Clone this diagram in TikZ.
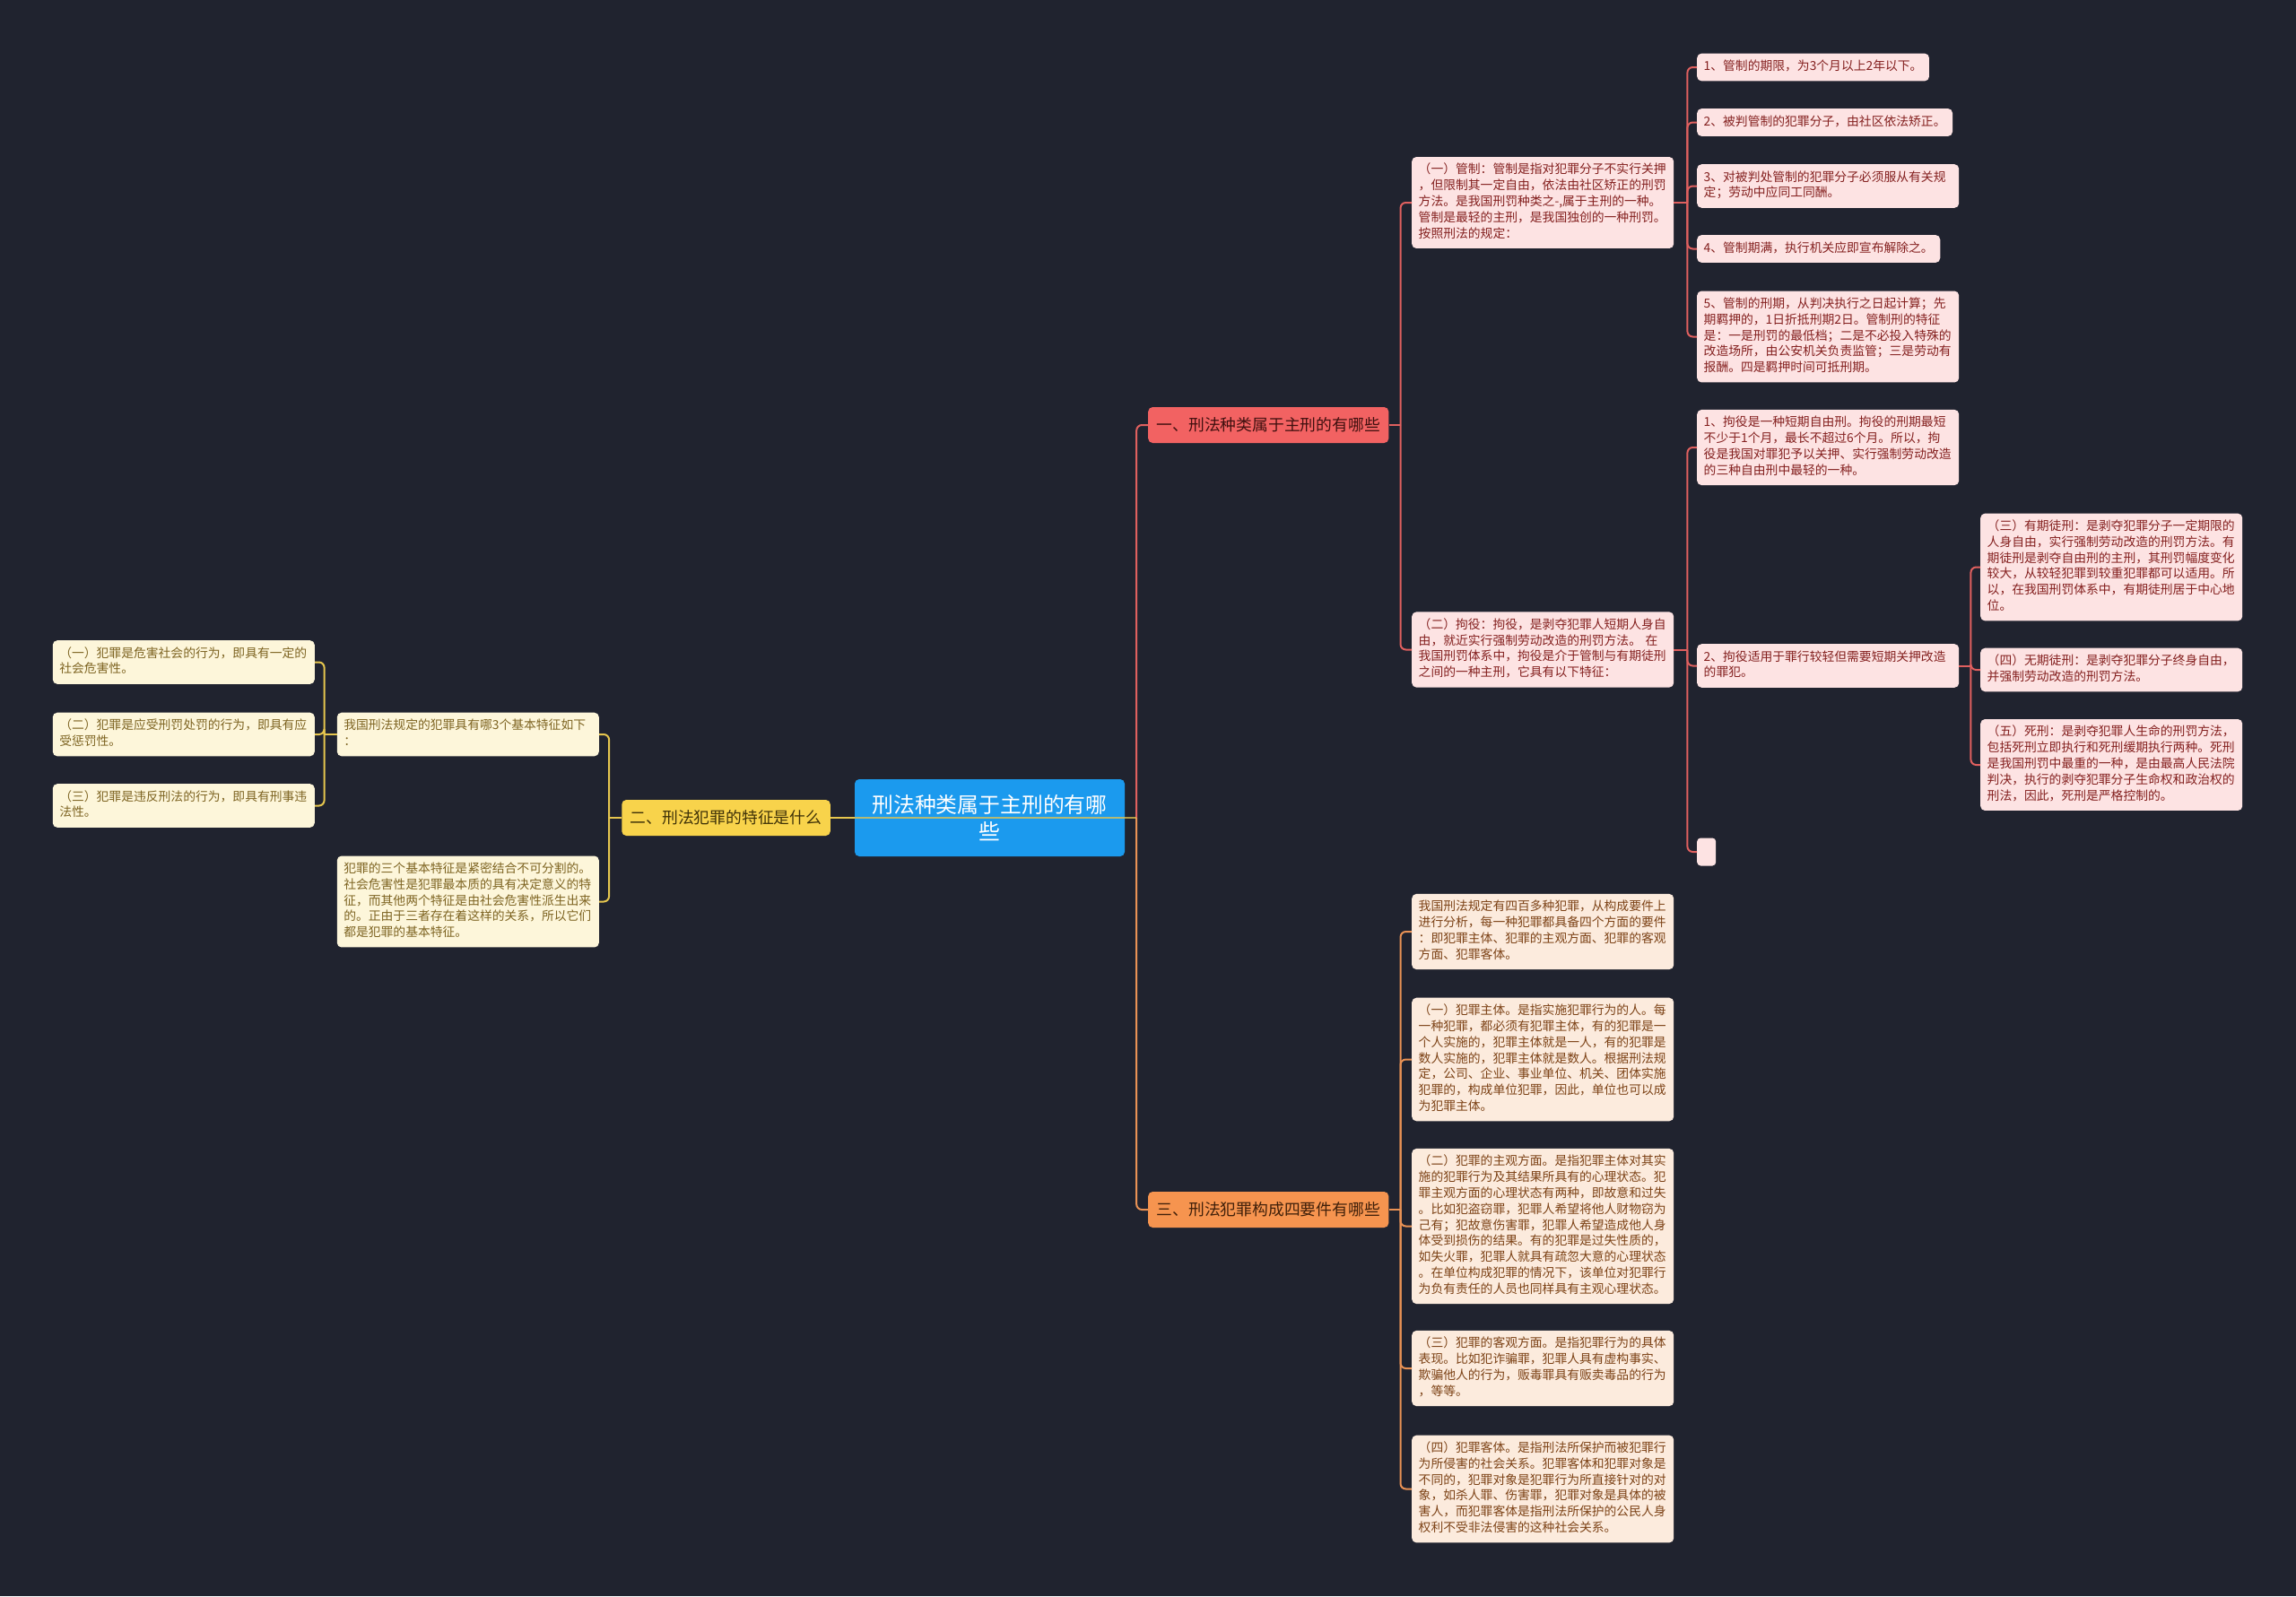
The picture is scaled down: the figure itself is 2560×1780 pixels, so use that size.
\documentclass[tikz,border=0pt]{standalone}
\usepackage{fontspec}
\setmainfont{Noto Sans CJK SC}
\definecolor{bg}{HTML}{20232F}
\definecolor{ctfill}{HTML}{1B9AEE}
\definecolor{bonefill}{HTML}{F26262}
\definecolor{bonetext}{HTML}{40100F}
\definecolor{redlf}{HTML}{FDE3E3}
\definecolor{redtx}{HTML}{84201F}
\definecolor{redln}{HTML}{E0605F}
\definecolor{btwofill}{HTML}{F8D34B}
\definecolor{btwotext}{HTML}{3F3208}
\definecolor{yellf}{HTML}{FDF6DA}
\definecolor{yeltx}{HTML}{7E6422}
\definecolor{yelln}{HTML}{E6C64E}
\definecolor{bthreefill}{HTML}{F6944F}
\definecolor{bthreetext}{HTML}{40200A}
\definecolor{orglf}{HTML}{FCEBDD}
\definecolor{orgtx}{HTML}{7C4216}
\definecolor{orgln}{HTML}{E99255}
\begin{document}
\begin{tikzpicture}[x=1bp,y=-1bp,
  rootbox/.style={fill=ctfill, text=white, rounded corners=5bp, minimum width=301bp, minimum height=86bp, align=center, inner sep=0pt, font=\fontsize{23.9}{29.5}\selectfont},
  branchbox/.style={rounded corners=5bp, minimum height=40bp, inner xsep=9.5bp, inner ysep=0pt, font=\fontsize{17.86}{20}\selectfont},
  leafbox/.style={rounded corners=5bp, align=left, inner xsep=7.5bp, inner ysep=6.5bp, font=\fontsize{13.85}{17.86}\selectfont, execute at begin node=\strut, execute at end node=\strut},
  wide/.style={text width=277bp},
  rleaf/.style={leafbox, fill=redlf, text=redtx},
  yleaf/.style={leafbox, fill=yellf, text=yeltx},
  oleaf/.style={leafbox, fill=orglf, text=orgtx},
  emptybox/.style={fill=redlf, rounded corners=4bp, minimum width=21bp, minimum height=31bp, inner sep=0pt},
  redline/.style={draw=redln, line width=2bp},
  orgline/.style={draw=orgln, line width=2bp},
  yelline/.style={draw=yelln, line width=2bp},
  elbow/.style={rounded corners=6bp}
]
\fill[bg] (0,0) rectangle (2560,1780);
\useasboundingbox (0,0) rectangle (2560,1780);

% root and branches
\node[rootbox] (ct) at (1103.5,912) {刑法种类属于主刑的有哪\\些};
\node[branchbox, fill=bonefill, text=bonetext, anchor=west] (b1) at (1280,474) {一、刑法种类属于主刑的有哪些};
\node[branchbox, fill=btwofill, text=btwotext, anchor=east] (b2) at (926,912) {二、刑法犯罪的特征是什么};
\node[branchbox, fill=bthreefill, text=bthreetext, anchor=west] (b3) at (1280,1349) {三、刑法犯罪构成四要件有哪些};

% branch 1
\node[rleaf, wide, anchor=west] (gz) at (1574,226) {（一）管制：管制是指对犯罪分子不实行关押\\，但限制其一定自由，依法由社区矫正的刑罚\\方法。是我国刑罚种类之-,属于主刑的一种。\\管制是最轻的主刑，是我国独创的一种刑罚。\\按照刑法的规定：};
\node[rleaf, wide, anchor=west] (jy) at (1574,724.5) {（二）拘役：拘役，是剥夺犯罪人短期人身自\\由，就近实行强制劳动改造的刑罚方法。 在\\我国刑罚体系中，拘役是介于管制与有期徒刑\\之间的一种主刑，它具有以下特征：};

\node[rleaf, anchor=west] (g1) at (1892,75) {1、管制的期限，为3个月以上2年以下。};
\node[rleaf, anchor=west] (g2) at (1892,136.5) {2、被判管制的犯罪分子，由社区依法矫正。};
\node[rleaf, wide, anchor=west] (g3) at (1892,207.5) {3、对被判处管制的犯罪分子必须服从有关规\\定；劳动中应同工同酬。};
\node[rleaf, anchor=west] (g4) at (1892,277.5) {4、管制期满，执行机关应即宣布解除之。};
\node[rleaf, wide, anchor=west] (g5) at (1892,375.5) {5、管制的刑期，从判决执行之日起计算；先\\期羁押的，1日折抵刑期2日。管制刑的特征\\是：一是刑罚的最低档；二是不必投入特殊的\\改造场所，由公安机关负责监管；三是劳动有\\报酬。四是羁押时间可抵刑期。};

\node[rleaf, wide, anchor=west] (j1) at (1892,499) {1、拘役是一种短期自由刑。拘役的刑期最短\\不少于1个月，最长不超过6个月。所以，拘\\役是我国对罪犯予以关押、实行强制劳动改造\\的三种自由刑中最轻的一种。};
\node[rleaf, wide, anchor=west] (j2) at (1892,742.5) {2、拘役适用于罪行较轻但需要短期关押改造\\的罪犯。};
\node[emptybox, anchor=west] (j3) at (1892,950) {};

\node[rleaf, wide, anchor=west] (y3) at (2208,632.5) {（三）有期徒刑：是剥夺犯罪分子一定期限的\\人身自由，实行强制劳动改造的刑罚方法。有\\期徒刑是剥夺自由刑的主刑，其刑罚幅度变化\\较大，从较轻犯罪到较重犯罪都可以适用。所\\以，在我国刑罚体系中，有期徒刑居于中心地\\位。};
\node[rleaf, wide, anchor=west] (y4) at (2208,747) {（四）无期徒刑：是剥夺犯罪分子终身自由，\\并强制劳动改造的刑罚方法。};
\node[rleaf, wide, anchor=west] (y5) at (2208,853) {（五）死刑：是剥夺犯罪人生命的刑罚方法，\\包括死刑立即执行和死刑缓期执行两种。死刑\\是我国刑罚中最重的一种，是由最高人民法院\\判决，执行的剥夺犯罪分子生命权和政治权的\\刑法，因此，死刑是严格控制的。};

% branch 3
\node[oleaf, wide, anchor=west] (c0) at (1574,1039) {我国刑法规定有四百多种犯罪，从构成要件上\\进行分析，每一种犯罪都具备四个方面的要件\\：即犯罪主体、犯罪的主观方面、犯罪的客观\\方面、犯罪客体。};
\node[oleaf, wide, anchor=west] (c1) at (1574,1181.5) {（一）犯罪主体。是指实施犯罪行为的人。每\\一种犯罪，都必须有犯罪主体，有的犯罪是一\\个人实施的，犯罪主体就是一人，有的犯罪是\\数人实施的，犯罪主体就是数人。根据刑法规\\定，公司、企业、事业单位、机关、团体实施\\犯罪的，构成单位犯罪，因此，单位也可以成\\为犯罪主体。};
\node[oleaf, wide, anchor=west] (c2) at (1574,1367.5) {（二）犯罪的主观方面。是指犯罪主体对其实\\施的犯罪行为及其结果所具有的心理状态。犯\\罪主观方面的心理状态有两种，即故意和过失\\。比如犯盗窃罪，犯罪人希望将他人财物窃为\\己有；犯故意伤害罪，犯罪人希望造成他人身\\体受到损伤的结果。有的犯罪是过失性质的，\\如失火罪，犯罪人就具有疏忽大意的心理状态\\。在单位构成犯罪的情况下，该单位对犯罪行\\为负有责任的人员也同样具有主观心理状态。};
\node[oleaf, wide, anchor=west] (c3) at (1574,1526) {（三）犯罪的客观方面。是指犯罪行为的具体\\表现。比如犯诈骗罪，犯罪人具有虚构事实、\\欺骗他人的行为，贩毒罪具有贩卖毒品的行为\\，等等。};
\node[oleaf, wide, anchor=west] (c4) at (1574,1660.5) {（四）犯罪客体。是指刑法所保护而被犯罪行\\为所侵害的社会关系。犯罪客体和犯罪对象是\\不同的，犯罪对象是犯罪行为所直接针对的对\\象，如杀人罪、伤害罪，犯罪对象是具体的被\\害人，而犯罪客体是指刑法所保护的公民人身\\权利不受非法侵害的这种社会关系。};

% branch 2
\node[yleaf, wide, anchor=east] (n1) at (668,819) {我国刑法规定的犯罪具有哪3个基本特征如下\\：};
\node[yleaf, wide, anchor=east] (n2) at (668,1005.5) {犯罪的三个基本特征是紧密结合不可分割的。\\社会危害性是犯罪最本质的具有决定意义的特\\征，而其他两个特征是由社会危害性派生出来\\的。正由于三者存在着这样的关系，所以它们\\都是犯罪的基本特征。};
\node[yleaf, wide, anchor=east] (l1) at (351,738.5) {（一）犯罪是危害社会的行为，即具有一定的\\社会危害性。};
\node[yleaf, wide, anchor=east] (l2) at (351,819) {（二）犯罪是应受刑罚处罚的行为，即具有应\\受惩罚性。};
\node[yleaf, wide, anchor=east] (l3) at (351,898.5) {（三）犯罪是违反刑法的行为，即具有刑事违\\法性。};

% connectors: root
\path (ct.east) ++(13,0) coordinate (tc);
\draw[redline, elbow] (tc) |- (b1.west);
\draw[orgline, elbow] (tc) |- (b3.west);
\draw[yelline] (b2.east) -- (ct.west);
\draw[yelln, line width=1.3bp, opacity=0.75] (ct.west) -- (tc);

% branch 1 connectors
\path (b1.east) ++(13,0) coordinate (t1);
\draw[redline] (b1.east) -- (t1);
\draw[redline, elbow] (t1) |- (gz.west);
\draw[redline, elbow] (t1) |- (jy.west);

\path (gz.east) ++(15,0) coordinate (tg);
\draw[redline] (gz.east) -- (tg);
\foreach \n in {g1,g2,g3,g4,g5} \draw[redline, elbow] (tg) |- (\n.west);

\path (jy.east) ++(15,0) coordinate (tj);
\draw[redline] (jy.east) -- (tj);
\foreach \n in {j1,j2,j3} \draw[redline, elbow] (tj) |- (\n.west);

\path (j2.east) ++(13,0) coordinate (ty);
\draw[redline] (j2.east) -- (ty);
\foreach \n in {y3,y4,y5} \draw[redline, elbow] (ty) |- (\n.west);

% branch 3 connectors
\path (b3.east) ++(13,0) coordinate (t3);
\draw[orgline] (b3.east) -- (t3);
\foreach \n in {c0,c1,c2,c3,c4} \draw[orgline, elbow] (t3) |- (\n.west);

% branch 2 connectors
\path (b2.west) ++(-14,0) coordinate (t2);
\draw[yelline] (b2.west) -- (t2);
\draw[yelline, elbow] (t2) |- (n1.east);
\draw[yelline, elbow] (t2) |- (n2.east);

\path (n1.west) ++(-14,0) coordinate (tl);
\draw[yelline] (n1.west) -- (tl);
\foreach \n in {l1,l2,l3} \draw[yelline, elbow] (tl) |- (\n.east);
\end{tikzpicture}
\end{document}
